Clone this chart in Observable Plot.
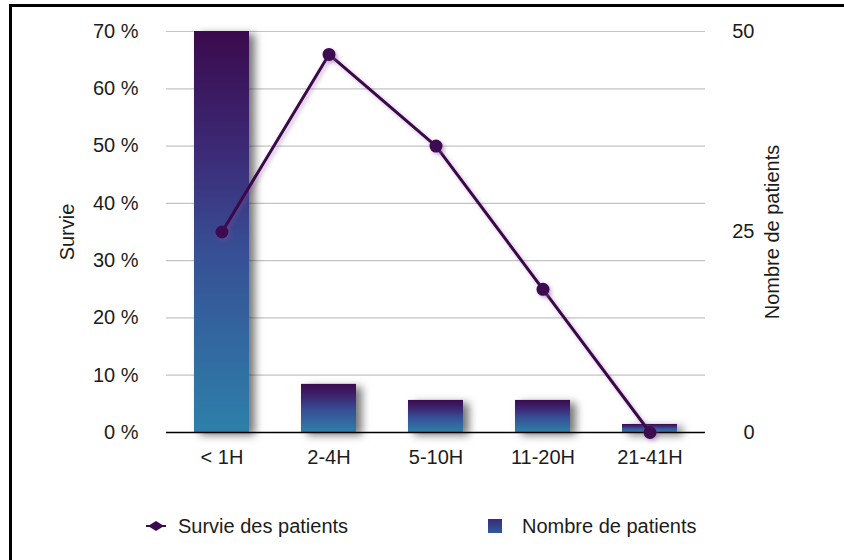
<!DOCTYPE html>
<html>
<head>
<meta charset="utf-8">
<script src="https://cdn.jsdelivr.net/npm/d3@7"></script>
<script src="https://cdn.jsdelivr.net/npm/@observablehq/plot@0.6"></script>
<style>
  html, body { margin: 0; padding: 0; background: #fff; }
  #wrap { position: relative; width: 844px; height: 560px; overflow: hidden; font-family: "Liberation Sans", Arial, sans-serif; color: #1c1c1c; }
  #frame { position: absolute; left: 9px; top: 4px; width: 900px; height: 620px; border-left: 3px solid #000; border-top: 3px solid #000; box-sizing: border-box; }
  .layer { position: absolute; left: 0; top: 0; }
  .legend { position: absolute; font-size: 20px; line-height: 20px; white-space: nowrap; }
  .bars [aria-label="bar"] { filter: drop-shadow(6px 3px 4px rgba(30,30,30,0.6)); }
  .lines [aria-label="line"], .lines [aria-label="dot"] { filter: drop-shadow(2px 2px 2px rgba(140,80,160,0.45)); }
</style>
</head>
<body>
<svg width="0" height="0" style="position:absolute">
  <defs>
    <linearGradient id="barGrad" x1="0" y1="0" x2="0" y2="1">
      <stop offset="0" stop-color="#3a0a4d"/>
      <stop offset="0.3" stop-color="#3c2a76"/>
      <stop offset="0.55" stop-color="#374f95"/>
      <stop offset="1" stop-color="#2d80aa"/>
    </linearGradient>
  </defs>
</svg>
<div id="wrap">
  <div id="frame"></div>
  <div id="l1" class="layer"></div>
  <div id="l2" class="layer bars"></div>
  <div id="l3" class="layer lines"></div>
  <svg class="legend" style="left:145px; top:518px;" width="22" height="16">
    <line x1="1" y1="8" x2="21" y2="8" stroke="#3a0a48" stroke-width="2"/>
    <path d="M3 8 L11 3 L19 8 L11 13 Z" fill="#3d0b4f"/>
  </svg>
  <div class="legend" style="left:178px; top:516px;">Survie des patients</div>
  <div class="legend" style="left:488px; top:519px; width:14px; height:14px; background:linear-gradient(#3b2a78,#2f5a9a);"></div>
  <div class="legend" style="left:522px; top:516px;">Nombre de patients</div>
</div>
<script>
// ---- data ----
const categories = ["< 1H", "2-4H", "5-10H", "11-20H", "21-41H"];
const patients = [50, 6, 4, 4, 1];          // Nombre de patients (right axis)
const survival = [0.35, 0.66, 0.50, 0.25, 0]; // Survie (left axis)
const percentTicks = [0, 0.1, 0.2, 0.3, 0.4, 0.5, 0.6, 0.7];
const patientTicks = [0, 25, 50];

const rows = categories.map((c, i) => ({cat: c, n: patients[i], s: survival[i]}));

const common = {
  width: 844,
  height: 480,
  marginTop: 31,
  marginBottom: 48,
  marginLeft: 166,
  marginRight: 139,
  x: {type: "band", domain: categories, paddingInner: 0.49, paddingOuter: 0.25, axis: null},
  style: {fontFamily: "Liberation Sans, Arial, sans-serif", fontSize: "20px", background: "transparent", color: "#1c1c1c", overflow: "visible"}
};

// Layer 1: grid, left axis, x axis, axis titles
const p1 = Plot.plot({
  ...common,
  y: {domain: [0, 0.7], axis: null},
  marks: [
    Plot.ruleY(percentTicks, {stroke: "#c4c4c4", strokeWidth: 1.2}),
    Plot.axisY(percentTicks, {anchor: "left", tickSize: 0, tickPadding: 28, tickFormat: d => Math.round(d * 100) + " %", label: null, fill: "#1c1c1c"}),
    Plot.axisX({anchor: "bottom", tickSize: 0, tickPadding: 17, label: null, fill: "#1c1c1c"}),
    Plot.text(["Survie"], {text: d => d, frameAnchor: "left", textAnchor: "middle", dx: -99, rotate: -90, fontSize: 20, fill: "#1c1c1c"}),
    Plot.text(["Nombre de patients"], {text: d => d, frameAnchor: "right", textAnchor: "middle", dx: 67, rotate: -90, fontSize: 20, fill: "#1c1c1c"})
  ]
});
document.getElementById("l1").appendChild(p1);

// Layer 2: bars with right axis
const p2 = Plot.plot({
  ...common,
  y: {domain: [0, 50], axis: null},
  marks: [
    Plot.barY(rows, {x: "cat", y: "n", fill: "url(#barGrad)"}),
    Plot.ruleY([0], {stroke: "#000", strokeWidth: 1.5}),
    Plot.axisY(patientTicks, {anchor: "right", tickSize: 0, tickPadding: 49, textAnchor: "end", label: null, fill: "#1c1c1c"})
  ]
});
document.getElementById("l2").appendChild(p2);

// Layer 3: survival line
const p3 = Plot.plot({
  ...common,
  y: {domain: [0, 0.7], axis: null},
  marks: [
    Plot.line(rows, {x: "cat", y: "s", stroke: "#3a0a48", strokeWidth: 3}),
    Plot.dot(rows, {x: "cat", y: "s", r: 6.5, fill: "#3d0b4f", stroke: "none"})
  ]
});
document.getElementById("l3").appendChild(p3);
</script>
</body>
</html>
